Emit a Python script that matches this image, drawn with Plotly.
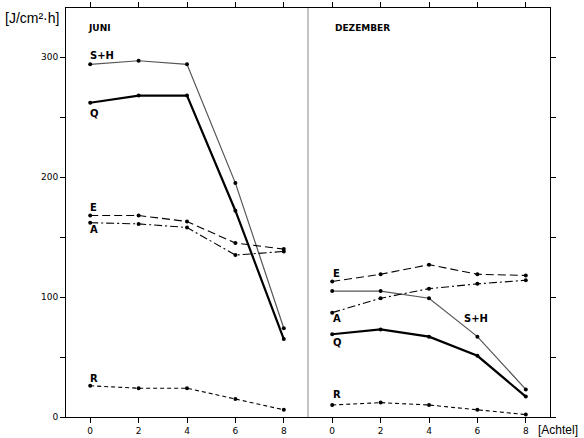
import plotly.graph_objects as go
from plotly.subplots import make_subplots

# Data
achtel = [0, 2, 4, 6, 8]

juni_SH = [294, 297, 294, 195, 74]
juni_Q = [262, 268, 268, 172, 65]
juni_E = [168, 168, 163, 145, 140]
juni_A = [162, 161, 158, 135, 138]
juni_R = [26, 24, 24, 15, 6]

dez_SH = [105, 105, 99, 67, 23]
dez_Q = [69, 73, 67, 51, 17]
dez_E = [113, 119, 127, 119, 118]
dez_A = [87, 99, 107, 111, 114]
dez_R = [10, 12, 10, 6, 2]

y_ticks = [0, 50, 100, 150, 200, 250, 300]
y_ticktext = ["0", "", "100", "", "200", "", "300"]

styles = {
    "SH": dict(color="#555555", width=1.2, dash="solid"),
    "Q": dict(color="black", width=2.2, dash="solid"),
    "E": dict(color="black", width=1.1, dash="8px,4px"),
    "A": dict(color="black", width=1.1, dash="8px,3px,2px,3px"),
    "R": dict(color="black", width=1.1, dash="4px,3px"),
}

fig = make_subplots(rows=1, cols=2, shared_yaxes=True, horizontal_spacing=0)

for col, series in [(1, {"SH": juni_SH, "Q": juni_Q, "E": juni_E, "A": juni_A, "R": juni_R}),
                    (2, {"SH": dez_SH, "Q": dez_Q, "E": dez_E, "A": dez_A, "R": dez_R})]:
    for key, vals in series.items():
        fig.add_trace(go.Scatter(
            x=achtel, y=vals, mode="lines+markers",
            line=styles[key],
            marker=dict(size=4, color="black"),
            showlegend=False, hoverinfo="skip"), row=1, col=col)

axis_common = dict(showline=True, linecolor="black", linewidth=1, ticks="outside",
                   ticklen=5, tickcolor="black", showgrid=False, zeroline=False,
                   automargin=False,
                   tickfont=dict(family="DejaVu Sans", size=9, color="black"))

fig.update_xaxes(range=[-1, 9], tickvals=achtel, mirror="ticks", **axis_common)
fig.update_yaxes(range=[0, 341], tickvals=y_ticks, ticktext=y_ticktext, **axis_common)
fig.update_layout(yaxis2=dict(side="right", showticklabels=False))
fig.update_xaxes(domain=[0, 0.5], row=1, col=1)
fig.update_xaxes(domain=[0.5, 1], row=1, col=2)

def ann(text, x, y, xref, yref, size=10, bold=True, xanchor="left", family="DejaVu Sans"):
    fig.add_annotation(text=("<b>%s</b>" % text) if bold else text, x=x, y=y,
                       xref=xref, yref=yref, showarrow=False, xanchor=xanchor,
                       yanchor="middle", font=dict(family=family, size=size, color="black"))

ann("JUNI", -0.17, 324, "x", "y", size=9)
ann("S+H", -0.1, 301, "x", "y")
ann("Q", -0.1, 253, "x", "y")
ann("E", -0.1, 175, "x", "y")
ann("A", -0.1, 156, "x", "y")
ann("R", -0.1, 32, "x", "y")

ann("DEZEMBER", 0.04, 324, "x2", "y", size=9)
ann("E", -0.05, 120, "x2", "y")
ann("A", -0.05, 82, "x2", "y")
ann("Q", -0.05, 62, "x2", "y")
ann("S+H", 5.37, 82, "x2", "y")
ann("R", -0.05, 19, "x2", "y")

ann("[J/cm²·h]", -0.13, 0.976, "paper", "paper", size=14, bold=False, family="Liberation Sans")
ann("[Achtel]", 1.062, -0.031, "paper", "paper", size=12, bold=False, family="Liberation Sans",
    xanchor="right")

fig.add_shape(type="line", x0=0.5, x1=0.5, y0=0, y1=1, xref="paper", yref="paper",
              line=dict(color="#888888", width=1))

fig.update_layout(width=584, height=438, margin=dict(l=66, r=34, t=8, b=21),
                  plot_bgcolor="white", paper_bgcolor="white")

fig.write_html("out.html", config={"displayModeBar": False},
               post_script="document.body.style.margin='0';document.body.style.padding='0';document.body.style.overflow='hidden';")
